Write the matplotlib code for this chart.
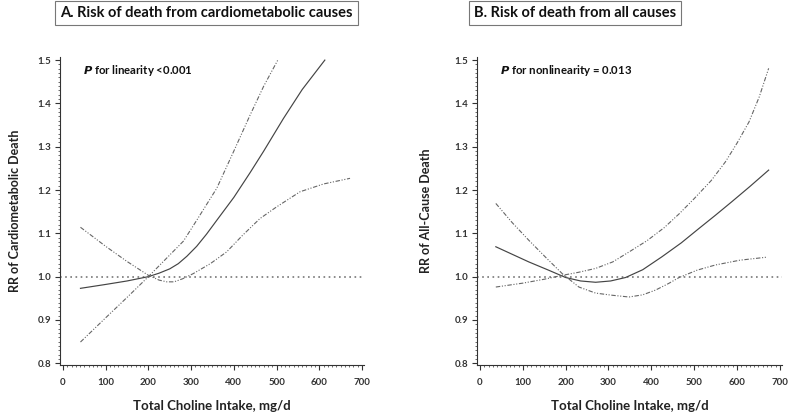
import numpy as np
import matplotlib.pyplot as plt
from matplotlib.ticker import MultipleLocator

plt.rcParams['font.family'] = ['Lato', 'DejaVu Sans']

# panel A: cardiometabolic death
a_x_est = [41, 100, 150, 200, 225, 250, 270, 290, 313, 336, 360, 400, 438, 470, 516, 560, 613]
a_est = [0.973, 0.982, 0.990, 1.000, 1.008, 1.018, 1.030, 1.047, 1.070, 1.098, 1.130, 1.183, 1.240, 1.290, 1.365, 1.432, 1.500]
a_x_hi = [41, 100, 150, 200, 240, 282, 313, 360, 400, 438, 470, 504]
a_hi = [0.849, 0.905, 0.952, 1.000, 1.040, 1.082, 1.130, 1.204, 1.290, 1.373, 1.440, 1.502]
a_x_lo = [41, 100, 150, 200, 225, 243, 260, 280, 305, 345, 383, 420, 461, 500, 555, 610, 672]
a_lo = [1.114, 1.070, 1.035, 1.003, 0.992, 0.988, 0.988, 0.995, 1.007, 1.030, 1.057, 1.095, 1.134, 1.161, 1.196, 1.214, 1.227]

# panel B: all-cause death
b_x_est = [37, 114, 160, 200, 235, 270, 305, 340, 380, 425, 470, 511, 550, 588, 630, 674]
b_est = [1.069, 1.034, 1.015, 0.998, 0.990, 0.987, 0.990, 0.998, 1.016, 1.046, 1.078, 1.111, 1.142, 1.173, 1.208, 1.246]
b_x_hi = [37, 100, 150, 192, 230, 270, 310, 348, 390, 430, 465, 500, 540, 573, 600, 628, 652, 674]
b_hi = [0.976, 0.985, 0.994, 1.003, 1.010, 1.019, 1.034, 1.057, 1.083, 1.113, 1.145, 1.180, 1.222, 1.265, 1.308, 1.357, 1.415, 1.481]
b_x_lo = [37, 75, 114, 155, 192, 231, 270, 309, 348, 380, 410, 440, 465, 507, 550, 607, 670]
b_lo = [1.169, 1.125, 1.084, 1.043, 1.007, 0.976, 0.962, 0.957, 0.953, 0.958, 0.969, 0.984, 0.998, 1.015, 1.027, 1.038, 1.045]

xticks = [0, 100, 200, 300, 400, 500, 600, 700]
yticks = [0.8, 0.9, 1.0, 1.1, 1.2, 1.3, 1.4, 1.5]

fig = plt.figure(figsize=(7.88, 4.15), dpi=100)
ax1 = fig.add_axes([0.0761, 0.1205, 0.386, 0.742])
ax2 = fig.add_axes([0.6053, 0.1205, 0.387, 0.742])

ci_style = dict(color='#666666', lw=0.8, linestyle=(0, (4, 1.5, 1, 1.5, 1, 1.5)))
panels = [
    (ax1, a_x_est, a_est, a_x_hi, a_hi, a_x_lo, a_lo,
     'RR of Cardiometabolic Death', 'linearity <0.001', -0.128,
     'A. Risk of death from cardiometabolic causes', 0.262),
    (ax2, b_x_est, b_est, b_x_hi, b_hi, b_x_lo, b_lo,
     'RR of All-Cause Death', 'nonlinearity = 0.013', -0.148,
     'B. Risk of death from all causes', 0.730),
]

for ax, xe, ye, xh, yh, xl, yl, ylab, ptxt, ylx, title, tx in panels:
    ax.axhline(1.0, color='#777777', lw=1.2, linestyle=(0, (1, 2.1)))
    ax.plot(xe, ye, color='#444444', lw=0.85)
    ax.plot(xh, yh, **ci_style)
    ax.plot(xl, yl, **ci_style)

    ax.set_xlim(-7, 705)
    ax.set_ylim(0.796, 1.507)
    ax.set_xticks(xticks)
    ax.set_yticks(yticks)
    ax.set_yticklabels(['%.1f' % v for v in yticks])
    ax.xaxis.set_minor_locator(MultipleLocator(10))
    ax.yaxis.set_minor_locator(MultipleLocator(0.01))
    ax.tick_params(which='major', length=3.5, width=0.8, labelsize=7, colors='#333333', pad=3)
    ax.tick_params(which='minor', length=1.6, width=0.6, colors='#555555')
    for lab in ax.get_xticklabels() + ax.get_yticklabels():
        lab.set_fontweight('bold')
    ax.tick_params(axis='x', pad=6)
    for s in ['top', 'right']:
        ax.spines[s].set_visible(False)
    for s in ['left', 'bottom']:
        ax.spines[s].set_color('#333333')
        ax.spines[s].set_linewidth(0.8)

    ax.set_xlabel('Total Choline Intake, mg/d', fontsize=9.5, fontweight='bold', color='#222222')
    ax.xaxis.set_label_coords(0.5, -0.115)
    ax.set_ylabel(ylab, fontsize=9, fontweight='bold', color='#222222')
    ax.yaxis.set_label_coords(ylx, 0.5)

    ax.text(0.076, 0.955, r'$\bfit{P}$' + ' for ' + ptxt, transform=ax.transAxes,
            fontsize=8.2, fontweight='bold', va='center', ha='left', color='#111111')

    fig.text(tx, 0.969, title, fontsize=10.5, fontweight='bold', ha='center', va='center',
             color='#111111',
             bbox=dict(boxstyle='square,pad=0.35', facecolor='white', edgecolor='#777777', lw=0.8))

fig.savefig('out.png', dpi=100)
